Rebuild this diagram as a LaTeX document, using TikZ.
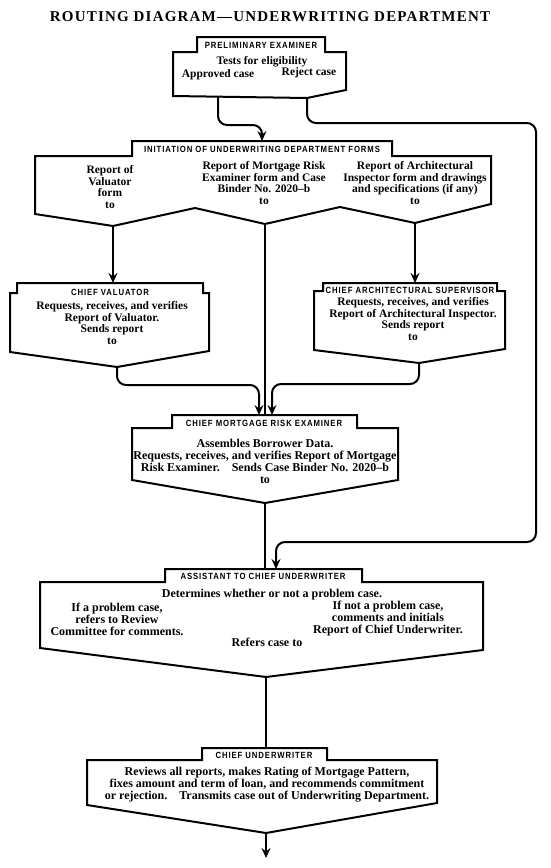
\documentclass[tikz,border=0pt]{standalone}
\usepackage{fontspec}
\setmainfont{Liberation Serif}
\newfontfamily\tabfont[FakeStretch=0.86,LetterSpace=10]{Liberation Sans}
\newfontfamily\titlefont[LetterSpace=8]{Liberation Serif}
\usetikzlibrary{calc,arrows.meta}

\begin{document}
\begin{tikzpicture}[x=1pt,y=-1pt,
	box/.style={line width=2pt, line join=miter},
	flow/.style={line width=2pt, rounded corners=9pt},
	arr/.style={flow, -{Stealth[length=10pt,width=9pt,inset=3.5pt]}},
	tabtext/.style={font=\tabfont\bfseries\fontsize{9}{10}\selectfont, inner sep=0pt},
	boxtext/.style={font=\bfseries\fontsize{11.5}{11.5}\selectfont, align=center, inner sep=0pt},
	bigtext/.style={boxtext, font=\bfseries\fontsize{12}{12}\selectfont}]

\useasboundingbox (0,0) rectangle (551,868);

\node[font=\titlefont\bfseries\fontsize{15}{17}\selectfont] (title) at (270,17) {ROUTING DIAGRAM—UNDERWRITING DEPARTMENT};

% Preliminary Examiner
\draw[box] (197,37) -- (325,37) -- (325,52) -- (346,52) -- (346,90) -- (307,98) coordinate (p-rej)
	-- (173,96) -- (173,52) -- (197,52) -- cycle;
\coordinate (p-app) at (218,97);
\node[tabtext] (p-tab) at (261,45) {PRELIMINARY EXAMINER};
\node[boxtext] (p-txt) at (262,62) {Tests for eligibility};
\node[boxtext] (p-ok) at (218,75) {Approved case};
\node[boxtext] (p-no) at (309,73) {Reject case};

% Initiation of forms
\draw[box] (132,141) -- (392,141) -- (392,156) -- (491,156) -- (491,204)
	-- (415,223) coordinate (i-c) -- (340,207) -- (265,224) coordinate (i-b)
	-- (195,208) -- (113,226) coordinate (i-a) -- (35,214) -- (35,156) -- (132,156) -- cycle;
\coordinate (i-in) at (262,141);
\node[tabtext] (i-tab) at (262,149) {INITIATION OF UNDERWRITING DEPARTMENT FORMS};
\node[boxtext] (i-val) at (110,187) {Report of\\Valuator\\form\\to};
\node[boxtext] (i-mor) at (264,183) {Report of Mortgage Risk\\Examiner form and Case\\Binder No. 2020–b\\to};
\node[boxtext] (i-arc) at (415,183) {Report of Architectural\\Inspector form and drawings\\and specifications (if any)\\to};

% Chief Valuator
\draw[box] (17,283) -- (203,283) -- (203,293) -- (209,293) -- (209,351) -- (117,367) coordinate (v-out)
	-- (10,352) -- (10,293) -- (17,293) -- cycle;
\coordinate (v-in) at (113,283);
\node[tabtext] (v-tab) at (110,292) {CHIEF VALUATOR};
\node[boxtext] (v-txt) at (112,323) {Requests, receives, and verifies\\Report of Valuator.\\Sends report\\to};

% Chief Architectural Supervisor
\draw[box] (323,283) -- (497,283) -- (497,291) -- (505,291) -- (505,349) -- (419,363) coordinate (a-out)
	-- (314,350) -- (314,291) -- (323,291) -- cycle;
\coordinate (a-in) at (415,283);
\node[tabtext] (a-tab) at (410,290) {CHIEF ARCHITECTURAL SUPERVISOR};
\node[boxtext] (a-txt) at (413,319) {Requests, receives, and verifies\\Report of Architectural Inspector.\\Sends report\\to};

% Chief Mortgage Risk Examiner
\draw[box] (172,415) -- (357,415) -- (357,428) -- (398,428) -- (398,480) -- (265,503) coordinate (m-out)
	-- (132,480) -- (132,428) -- (172,428) -- cycle;
\coordinate (m-in) at (265,415);
\coordinate (m-inl) at (259,415);
\coordinate (m-inr) at (272,415);
\node[tabtext] (m-tab) at (264,423) {CHIEF MORTGAGE RISK EXAMINER};
\node[bigtext] (m-txt) at (265,461) {Assembles Borrower Data.\\Requests, receives, and verifies Report of Mortgage\\Risk Examiner.\quad Sends Case Binder No. 2020–b\\to};

% Assistant to Chief Underwriter
\draw[box] (165,569) -- (362,569) -- (362,582) -- (483,582) -- (483,650) -- (266,677) coordinate (s-out)
	-- (40,648) -- (40,582) -- (165,582) -- cycle;
\coordinate (s-in) at (265,569);
\coordinate (s-inr) at (276,569);
\node[tabtext] (s-tab) at (263,576) {ASSISTANT TO CHIEF UNDERWRITER};
\node[bigtext] (s-txt) at (272,595) {Determines whether or not a problem case.};
\node[bigtext] (s-yes) at (117,619) {If a problem case,\\refers to Review\\Committee for comments.};
\node[bigtext] (s-no) at (388,619) {If not a problem case,\\comments and initials\\Report of Chief Underwriter.};
\node[bigtext] (s-ref) at (267,642) {Refers case to};

% Chief Underwriter
\draw[box] (202,748) -- (327,748) -- (327,760) -- (437,760) -- (437,803) -- (266,833) coordinate (u-out)
	-- (87,805) -- (87,760) -- (202,760) -- cycle;
\coordinate (u-in) at (266,748);
\coordinate (u-end) at (266,858);
\node[tabtext] (u-tab) at (264,755) {CHIEF UNDERWRITER};
\node[bigtext] (u-txt) at (267,785) {Reviews all reports, makes Rating of Mortgage Pattern,\\fixes amount and term of loan, and recommends commitment\\or rejection.\quad Transmits case out of Underwriting Department.};

% connectors
\coordinate (rt) at (536,123);
\draw[arr] (p-app) |- ($(i-in)+(0,-16)$) -- (i-in);
\draw[arr] (p-rej) |- (rt) |- ($(s-inr)+(0,-27)$) -- (s-inr);
\draw[arr] (i-a) -- (v-in);
\draw[arr] (i-c) -- (a-in);
\draw[flow] (i-b) -- (m-in);
\draw[arr] (v-out) |- ($(m-inl)+(0,-30)$) -- (m-inl);
\draw[arr] (a-out) |- ($(m-inr)+(0,-31)$) -- (m-inr);
\draw[flow] (m-out) -- (s-in);
\draw[flow] (s-out) -- (u-in);
\draw[arr] (u-out) -- (u-end);

\end{tikzpicture}
\end{document}
